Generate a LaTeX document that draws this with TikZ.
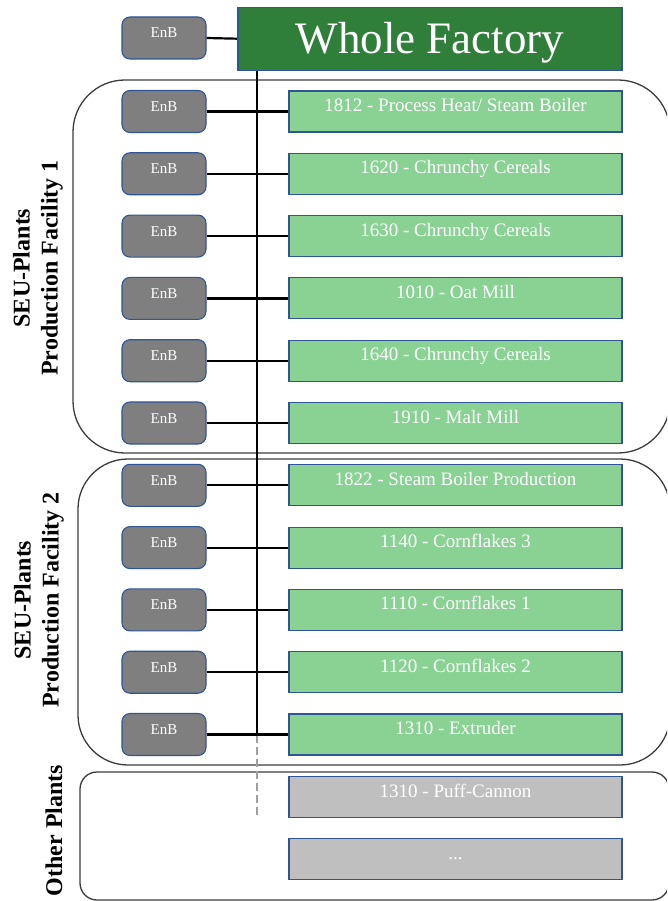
\documentclass[tikz,border=0pt]{standalone}
\usepackage{fontspec}
\setmainfont{Liberation Serif}
\definecolor{wfgreen}{RGB}{47,127,59}
\definecolor{plantgreen}{RGB}{137,210,148}
\definecolor{enbgray}{RGB}{127,127,127}
\definecolor{othergray}{RGB}{191,191,191}
\definecolor{boxblue}{RGB}{47,85,151}
\definecolor{framegray}{RGB}{60,60,60}
\definecolor{dashgray}{RGB}{160,160,160}
\tikzset{
  enbbox/.style={draw=boxblue, line width=1.1pt, fill=enbgray, rounded corners=8pt,
    minimum width=84pt, minimum height=42pt, inner sep=0pt, text=white,
    font=\fontsize{15}{18}\selectfont},
  plantbox/.style={draw=boxblue, line width=1.1pt, fill=plantgreen,
    minimum width=333pt, minimum height=41pt, inner sep=0pt, text=white,
    font=\fontsize{19}{22}\selectfont},
  otherbox/.style={plantbox, fill=othergray},
  wfbox/.style={draw=boxblue, line width=1.1pt, fill=wfgreen,
    minimum width=384pt, minimum height=63pt, inner sep=0pt, text=white,
    font=\fontsize{45}{50}\selectfont},
  groupframe/.style={draw=framegray, line width=1.3pt},
  grouplabel/.style={rotate=90, align=center, font=\fontsize{24}{28}\selectfont\bfseries},
  link/.style={draw=black, line width=2.2pt},
  bus/.style={draw=black, line width=2.8pt},
  busdash/.style={draw=dashgray, line width=2.2pt, dash pattern=on 8pt off 4pt},
}
\begin{document}
\begin{tikzpicture}[x=1pt, y=-1pt]
  \useasboundingbox (0,0) rectangle (667,901);
  \clip (0,0) rectangle (667,901);
  \fill[white] (0,0) rectangle (667,901);

  % group frames
  \draw[groupframe, rounded corners=52pt] (73,80) rectangle (670,453);
  \draw[groupframe, rounded corners=50pt] (78,459) rectangle (670,765);
  \draw[groupframe, rounded corners=17pt] (80,772) rectangle (669,900);

  % group labels
  \node[grouplabel] (lab1) at (38,268) {SEU-Plants\\Production Facility 1};
  \node[grouplabel] (lab2) at (39,600) {SEU-Plants\\Production Facility 2};
  \node[grouplabel, anchor=base] (lab3) at (62,830.5) {Other Plants};

  % top level
  \node[wfbox] (wf) at (430,38.7) {\raisebox{-14.5pt}[0pt][0pt]{Whole Factory}};
  \node[enbbox] (enb0) at (164,38) {\smash{EnB}};

  % plants with their EnB boxes
  \foreach \i/\txt in {
    1/{1812 - Process Heat/ Steam Boiler},
    2/{1620 - Chrunchy Cereals},
    3/{1630 - Chrunchy Cereals},
    4/{1010 - Oat Mill},
    5/{1640 - Chrunchy Cereals},
    6/{1910 - Malt Mill},
    7/{1822 - Steam Boiler Production},
    8/{1140 - Cornflakes 3},
    9/{1110 - Cornflakes 1},
    10/{1120 - Cornflakes 2},
    11/{1310 - Extruder}} {
    \pgfmathsetmacro{\yy}{111.5+62.3*(\i-1)}
    \node[enbbox] (enb\i) at (164,\yy) {\smash{EnB}};
    \node[plantbox] (plant\i) at (455.5,\yy) {\smash{\txt}};
  }
  \node[otherbox] (other1) at (455.5,797) {\smash{1310 - Puff-Cannon}};
  \node[otherbox] (other2) at (455.5,859) {\smash{...}};

  % bus line: solid down to the last EnB row, dashed below
  \coordinate (bustop) at (257,70);
  \coordinate (busend) at (bustop |- enb11.east);
  \coordinate (dashend) at (257,818);
  \draw[busdash] (busend) -- (dashend);
  \draw[bus] (bustop) -- (busend);

  % connectors
  \draw[link] (enb0.east) -- (wf.west);
  \foreach \i in {1,...,11} {
    \draw[link] (enb\i.east) -- (plant\i.west);
  }

  % redraw the top box over the bus start
  \node[wfbox] at (wf.center) {\raisebox{-14.5pt}[0pt][0pt]{Whole Factory}};
\end{tikzpicture}
\end{document}
